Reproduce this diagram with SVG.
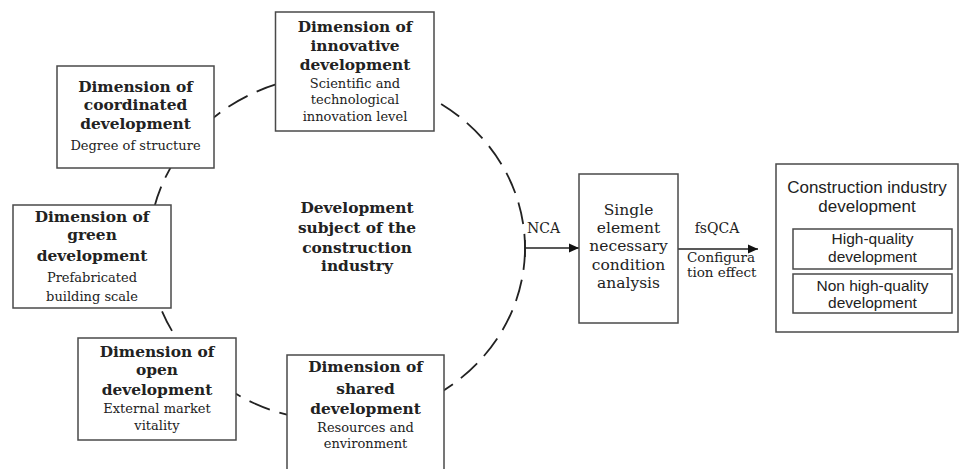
<svg xmlns="http://www.w3.org/2000/svg" width="961" height="469" viewBox="0 0 961 469">
<style>
.box{fill:#fff;stroke:#4a4a4a;stroke-width:1.5}
.t{font-family:"DejaVu Serif","Liberation Serif",serif;fill:#222;text-anchor:middle}
.b{font-weight:bold;font-size:15.4px}
.r{font-size:13px}
.s{font-family:"Liberation Sans",Arial,sans-serif;fill:#222;text-anchor:middle;font-size:17px}
.si{font-size:15.5px}
.dash{fill:none;stroke:#222;stroke-width:1.8;stroke-dasharray:22 10}
.ln{stroke:#222;stroke-width:1.6;fill:none}
</style>
<defs>
<marker id="ah" viewBox="0 0 10 10" refX="10" refY="5" markerWidth="10" markerHeight="10" markerUnits="userSpaceOnUse" orient="auto">
<path d="M0,0.5 L10,5 L0,9.5 Z" fill="#111"/>
</marker>
</defs>
<rect width="961" height="469" fill="#fff"/>
<g id="connectors">
<ellipse class="dash" cx="337" cy="248" rx="188" ry="173"/>
<line class="ln" x1="525" y1="240" x2="525" y2="257"/>
<line class="ln" x1="525" y1="248" x2="579" y2="248" marker-end="url(#ah)"/>
<line class="ln" x1="678" y1="249" x2="758" y2="249" marker-end="url(#ah)"/>
<text class="t" style="font-size:14px;text-anchor:start" x="527" y="233">NCA</text>
<text class="t" style="font-size:14px" x="717" y="233">fsQCA</text>
<text class="t" style="font-size:13.5px;text-anchor:start" x="687" y="262">Configura</text>
<text class="t" style="font-size:13.5px;text-anchor:start" x="687" y="277">tion effect</text>
</g>
<g id="center">
<text class="t b" x="357" y="213">Development</text>
<text class="t b" x="357" y="233">subject of the</text>
<text class="t b" x="357" y="253">construction</text>
<text class="t b" x="357" y="271">industry</text>
</g>
<g id="innovative">
<rect class="box" x="275.5" y="12" width="158.5" height="119"/>
<text class="t b" x="355" y="32">Dimension of</text>
<text class="t b" x="355" y="51">innovative</text>
<text class="t b" x="355" y="70">development</text>
<text class="t r" x="355" y="88">Scientific and</text>
<text class="t r" x="355" y="104">technological</text>
<text class="t r" x="355" y="121">innovation level</text>
</g>
<g id="coordinated">
<rect class="box" x="57" y="66" width="157" height="102"/>
<text class="t b" x="135.5" y="92">Dimension of</text>
<text class="t b" x="135.5" y="110">coordinated</text>
<text class="t b" x="135.5" y="129">development</text>
<text class="t r" x="135.5" y="150">Degree of structure</text>
</g>
<g id="green">
<rect class="box" x="13" y="205" width="158" height="103"/>
<text class="t b" x="92" y="222">Dimension of</text>
<text class="t b" x="92" y="240">green</text>
<text class="t b" x="92" y="261">development</text>
<text class="t r" x="92" y="282">Prefabricated</text>
<text class="t r" x="92" y="301">building scale</text>
</g>
<g id="open">
<rect class="box" x="78" y="338" width="158" height="102"/>
<text class="t b" x="157" y="357">Dimension of</text>
<text class="t b" x="157" y="375">open</text>
<text class="t b" x="157" y="395">development</text>
<text class="t r" x="157" y="413">External market</text>
<text class="t r" x="157" y="430">vitality</text>
</g>
<g id="shared">
<rect class="box" x="287" y="355" width="157" height="120"/>
<text class="t b" x="365.5" y="372">Dimension of</text>
<text class="t b" x="365.5" y="394">shared</text>
<text class="t b" x="365.5" y="414">development</text>
<text class="t r" x="365.5" y="432">Resources and</text>
<text class="t r" x="365.5" y="448">environment</text>
</g>
<g id="nca-analysis">
<rect class="box" x="579" y="174" width="99" height="149"/>
<text class="t" style="font-size:15.5px" x="628.5" y="215">Single</text>
<text class="t" style="font-size:15.5px" x="628.5" y="233">element</text>
<text class="t" style="font-size:15.5px" x="628.5" y="251">necessary</text>
<text class="t" style="font-size:15.5px" x="628.5" y="270">condition</text>
<text class="t" style="font-size:15.5px" x="628.5" y="288">analysis</text>
</g>
<g id="outcome">
<rect class="box" x="776" y="164" width="182" height="168"/>
<text class="s" x="867" y="193">Construction industry</text>
<text class="s" x="867" y="212">development</text>
</g>
<g id="high-quality">
<rect class="box" x="793" y="229" width="159" height="40"/>
<text class="s si" x="872.5" y="244">High-quality</text>
<text class="s si" x="872.5" y="261.5">development</text>
</g>
<g id="non-high-quality">
<rect class="box" x="793" y="274" width="159" height="39"/>
<text class="s si" x="872.5" y="290.5">Non high-quality</text>
<text class="s si" x="872.5" y="308">development</text>
</g>
</svg>
